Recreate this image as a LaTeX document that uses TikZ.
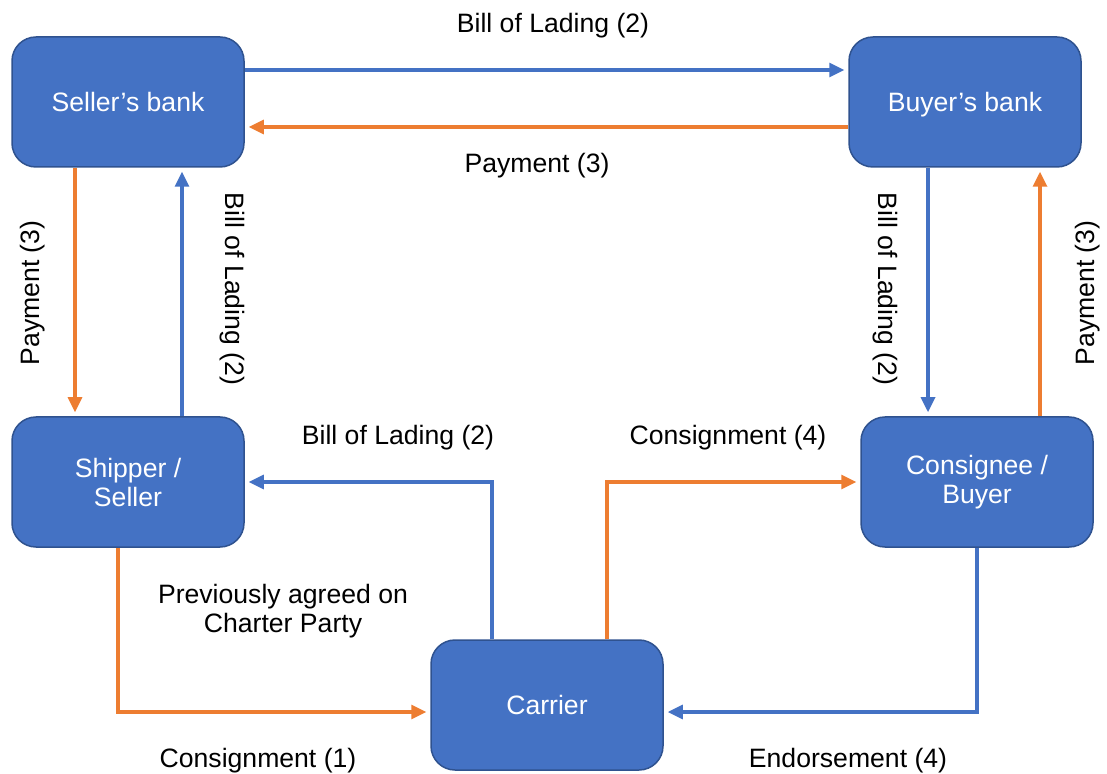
\documentclass[tikz,border=0pt]{standalone}
\usepackage{fontspec}
\setmainfont{Liberation Sans}
\usetikzlibrary{arrows.meta}

\definecolor{boxfill}{HTML}{4472C4}
\definecolor{boxline}{HTML}{2F528F}
\definecolor{flowblue}{HTML}{4472C4}
\definecolor{floworange}{HTML}{ED7D31}

\tikzset{
  party/.style = {draw = boxline, line width = 0.75pt, fill = boxfill,
    rounded corners = 12pt, minimum width = 116pt, minimum height = 65pt,
    text = white, align = center, inner sep = 0pt},
  blueflow/.style = {draw = flowblue, line width = 1.6pt,
    -{Triangle[length = 7.5pt, width = 7pt]}, shorten > = 2pt},
  orangeflow/.style = {draw = floworange, line width = 1.6pt,
    -{Triangle[length = 7.5pt, width = 7pt]}, shorten > = 2pt},
  tag/.style = {text = black, align = center, inner sep = 0pt}
}

\begin{document}
\begin{tikzpicture}[x = 0.5pt, y = -0.5pt,
  font = \fontsize{13.3}{14.5}\selectfont]
\useasboundingbox (0, 0) rectangle (1107, 774);

\node (sbank) [party] at (128, 102) {Seller’s bank};
\node (bbank) [party, text depth = 0pt] at (965, 102) {Buyer’s bank};
\node (shipper) [party] at (128, 482) {Shipper /\\Seller};
\node (consignee) [party] at (977, 482) {Consignee /\\Buyer};
\node (carrier) [party] at (547, 705) {Carrier};

% banks
\draw [blueflow] ([yshift = 16pt]sbank.east) -- ([yshift = 16pt]bbank.west);
\draw [orangeflow] ([yshift = -12.5pt]bbank.west) -- ([yshift = -12.5pt]sbank.east);
\node (bolbank) [tag] at (553, 26) {Bill of Lading (2)};
\node (paybank) [tag] at (537, 166) {Payment (3)};

% seller side
\draw [orangeflow] ([xshift = -26.5pt]sbank.south) -- ([xshift = -26.5pt]sbank.south |- shipper.north);
\draw [blueflow] ([xshift = 27pt]shipper.north) -- ([xshift = 27pt]shipper.north |- sbank.south);
\node (payseller) [tag, rotate = 90] at (33, 293) {Payment (3)};
\node (bolseller) [tag, rotate = -90] at (232, 289) {Bill of Lading (2)};

% buyer side
\draw [blueflow] ([xshift = -18.5pt]bbank.south) -- ([xshift = -18.5pt]bbank.south |- consignee.north);
\draw [orangeflow] ([xshift = 31.5pt]consignee.north) -- ([xshift = 31.5pt]consignee.north |- bbank.south);
\node (bolbuyer) [tag, rotate = -90] at (885, 289) {Bill of Lading (2)};
\node (paybuyer) [tag, rotate = 90] at (1088, 293) {Payment (3)};

% carrier
\draw [blueflow] ([xshift = -27.5pt]carrier.north) |- (shipper.east);
\draw [orangeflow] ([xshift = 30pt]carrier.north) |- (consignee.west);
\draw [orangeflow] ([xshift = -5pt]shipper.south) |- ([yshift = -3.5pt]carrier.west);
\draw [blueflow] (consignee.south) |- ([yshift = -3.5pt]carrier.east);
\node (bolcarrier) [tag] at (398, 438) {Bill of Lading (2)};
\node (consfour) [tag] at (728, 438) {Consignment (4)};
\node (charter) [tag] at (283, 611) {Previously agreed on\\Charter Party};
\node (consone) [tag] at (258, 761) {Consignment (1)};
\node (endorse) [tag] at (848, 761) {Endorsement (4)};
\end{tikzpicture}
\end{document}
